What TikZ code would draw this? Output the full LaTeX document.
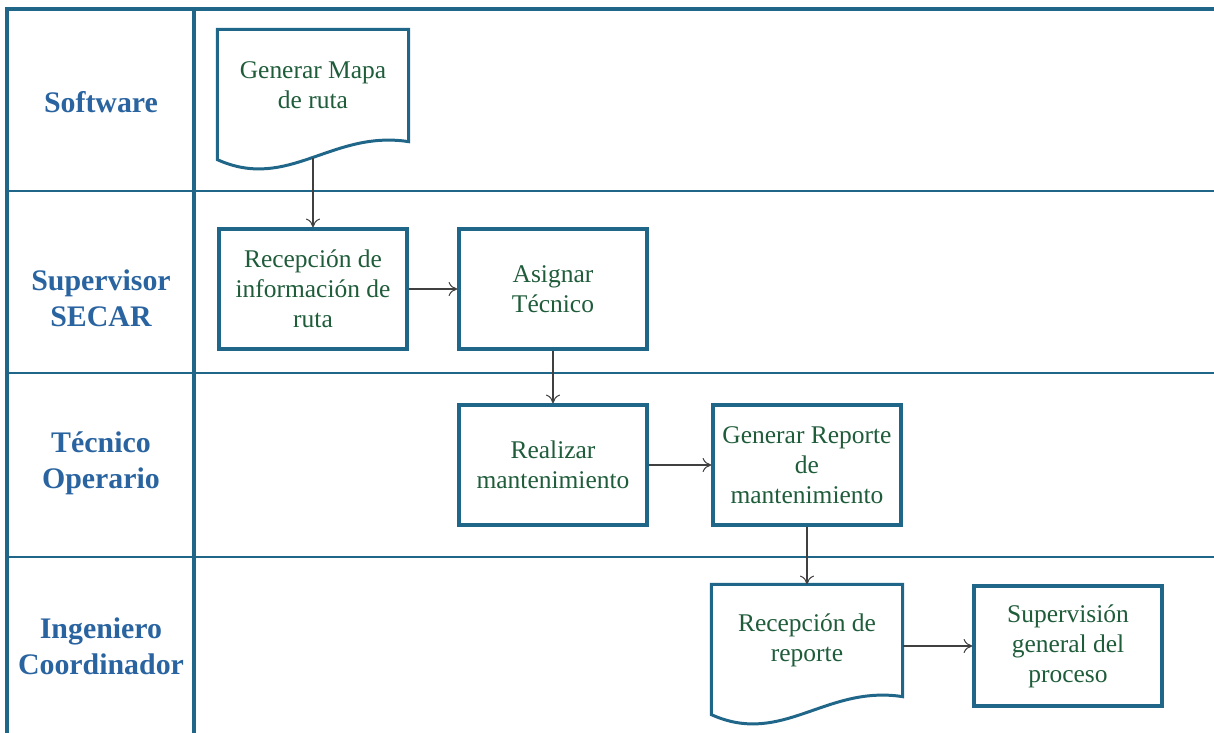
\documentclass[tikz,border=0pt]{standalone}
\usepackage{fontspec}
\setmainfont{Liberation Serif}
\usetikzlibrary{arrows.meta}

\definecolor{framec}{HTML}{1F6689}
\definecolor{lanec}{HTML}{2A64A0}
\definecolor{textc}{HTML}{1F5C3A}
\definecolor{arrowc}{HTML}{404040}

\tikzset{
  lanelbl/.style={text=lanec,font=\fontsize{17}{20.5}\selectfont\bfseries,align=center},
  procbox/.style={draw=framec,line width=1.9pt,minimum width=3.76cm,minimum height=2.4cm,
                  text=textc,font=\fontsize{14.5}{17}\selectfont,align=center,inner sep=0pt},
  docbox/.style={procbox,draw=none,minimum height=2.18cm},
  docline/.style={draw=framec,line width=1.7pt},
  flow/.style={draw=arrowc,line width=0.6pt,-{To[length=5pt,width=8pt]}}
}

\begin{document}
\begin{tikzpicture}[x=0.02cm,y=-0.02cm]
   \useasboundingbox (0,0) rectangle (1214,733);
   % swimlanes
   \draw[framec,line width=1.8pt] (7,733) -- (7,9) -- (1214,9);
   \draw[framec,line width=1.8pt] (194,9) -- (194,733);
   \draw[framec,line width=0.8pt] (7,191) -- (1214,191);
   \draw[framec,line width=0.8pt] (7,373) -- (1214,373);
   \draw[framec,line width=0.8pt] (7,557) -- (1214,557);
   \node[lanelbl] (lsoft) at (101,102) {Software};
   \node[lanelbl] (lsup)  at (101,298) {Supervisor\\SECAR};
   \node[lanelbl] (ltec)  at (101,463) {Técnico\\Operario};
   \node[lanelbl] (ling)  at (101,646) {Ingeniero\\Coordinador};
   % steps
   \node[docbox]  (gmapa)  at (313,85.5) {Generar Mapa\\de ruta};
   \draw[docline] (gmapa.north west) -- (gmapa.north east) -- (gmapa.south east)
      .. controls +(-77,-12) and +(71,32) .. ([yshift=-0.36cm]gmapa.south west) -- cycle;
   \coordinate (gmapa-out) at (313,158);
   \node[procbox] (recep)  at (313,289) {Recepción de\\información de\\ruta};
   \node[procbox] (asig)   at (553,289) {Asignar\\Técnico};
   \node[procbox] (real)   at (553,465) {Realizar\\mantenimiento};
   \node[procbox] (genrep) at (807,465) {Generar Reporte\\de\\mantenimiento};
   \node[docbox]  (recrep) at (807,640.5) {Recepción de\\reporte};
   \draw[docline] (recrep.north west) -- (recrep.north east) -- (recrep.south east)
      .. controls +(-77,-12) and +(71,32) .. ([yshift=-0.36cm]recrep.south west) -- cycle;
   \node[procbox] (superv) at (1068,646) {Supervisión\\general del\\proceso};
   % connectors
   \draw[flow] (gmapa-out) -- (recep.north);
   \draw[flow] (recep.east) -- (asig.west);
   \draw[flow] (asig.south) -- (real.north);
   \draw[flow] (real.east) -- (genrep.west);
   \draw[flow] (genrep.south) -- (recrep.north);
   \draw[flow] (superv.west -| recrep.east) -- (superv.west);
\end{tikzpicture}
\end{document}
